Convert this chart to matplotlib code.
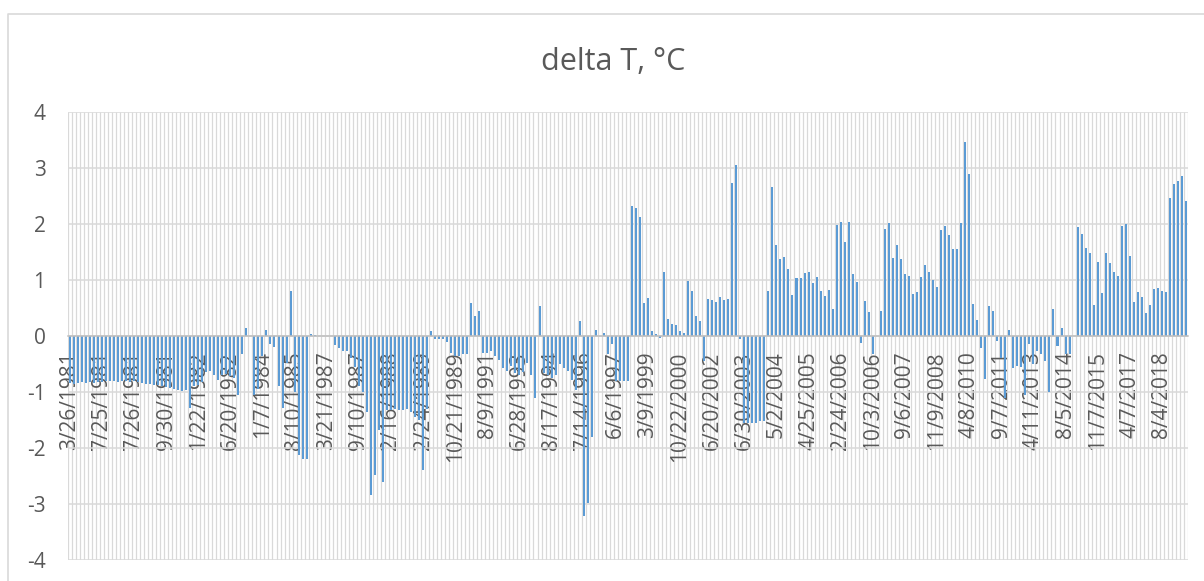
import numpy as np
import matplotlib.pyplot as plt
from matplotlib.lines import Line2D

# delta T per period
delta_t = [
    -0.84, -0.85, -0.84, -0.83, -0.84, -0.83, -0.84, -0.82, -0.82, -0.80,
    -0.81, -0.80, -0.82, -0.81, -0.80, -0.82, -0.81, -0.83, -0.84, -0.85,
    -0.86, -0.88, -0.87, -0.90, -0.91, -0.93, -0.95, -0.97, -0.99, -0.96,
    -1.28, -0.90, -0.88, -0.82, -0.65, -0.62, -0.70, -0.78, -0.70, -0.68,
    -0.72, -0.75, -1.05, -0.33, 0.15, 0.0, -1.05, -0.95, -0.35, 0.10,
    -0.15, -0.20, -0.90, -1.28, -0.48, 0.80, -1.00, -2.13, -2.19, -2.19,
    0.03, 0.02, 0.0, 0.0, 0.0, 0.0, -0.16, -0.22, -0.26, -0.27,
    -0.39, -0.55, -0.90, -1.00, -1.35, -2.84, -2.48, -1.68, -2.60, -1.32,
    -1.32, -1.30, -1.32, -1.33, -1.30, -1.35, -1.45, -1.50, -2.40, -1.30,
    0.09, -0.06, -0.06, -0.06, -0.10, -0.30, -0.35, -0.35, -0.33, -0.33,
    0.59, 0.35, 0.44, -0.30, -0.30, -0.27, -0.36, -0.42, -0.57, -0.63,
    -0.54, -0.66, -0.70, -0.65, -0.48, -0.69, -1.11, 0.54, -0.66, -0.70,
    -0.75, -0.70, -0.50, -0.57, -0.63, -0.78, -0.96, 0.26, -3.22, -2.98,
    -1.80, 0.10, 0.0, 0.06, -0.33, -0.15, -0.80, -0.81, -0.81, -0.81,
    2.32, 2.28, 2.12, 0.59, 0.68, 0.09, 0.03, -0.03, 1.14, 0.30,
    0.22, 0.20, 0.09, 0.05, 0.99, 0.80, 0.36, 0.26, -0.44, 0.66,
    0.65, 0.61, 0.69, 0.64, 0.66, 2.73, 3.06, -0.06, -1.55, -1.55,
    -1.55, -1.55, -1.52, -1.52, 0.81, 2.66, 1.62, 1.38, 1.41, 1.20,
    0.73, 1.03, 1.04, 1.13, 1.15, 0.95, 1.05, 0.81, 0.72, 0.83,
    0.48, 1.98, 2.04, 1.68, 2.03, 1.10, 0.97, -0.13, 0.63, 0.43,
    -0.33, 0.0, 0.45, 1.91, 2.01, 1.39, 1.62, 1.37, 1.10, 1.08,
    0.75, 0.78, 1.05, 1.26, 1.14, 1.00, 0.87, 1.89, 1.96, 1.81,
    1.55, 1.56, 2.01, 3.47, 2.89, 0.58, 0.28, -0.22, -0.76, 0.54,
    0.45, -0.09, -0.40, -1.10, 0.11, -0.58, -0.54, -0.56, -1.05, -0.15,
    -0.50, -0.27, -0.32, -0.45, -1.00, 0.48, -0.17, 0.15, -0.32, -0.33,
    0.0, 1.94, 1.83, 1.58, 1.49, 0.55, 1.32, 0.77, 1.49, 1.30,
    1.14, 1.07, 1.97, 2.00, 1.43, 0.61, 0.79, 0.70, 0.41, 0.56,
    0.84, 0.85, 0.81, 0.78, 2.46, 2.72, 2.76, 2.85, 2.41,
]

# every 8th category carries a date label
date_labels = [
    "3/26/1981", "7/25/1981", "7/26/1981", "9/30/1981", "1/22/1982",
    "6/20/1982", "1/7/1984", "8/10/1985", "3/21/1987", "9/10/1987",
    "2/16/1988", "2/24/1989", "10/21/1989", "8/9/1991", "6/28/1993",
    "8/17/1994", "7/14/1996", "6/6/1997", "3/9/1999", "10/22/2000",
    "6/20/2002", "6/30/2003", "5/2/2004", "4/25/2005", "2/24/2006",
    "10/3/2006", "9/6/2007", "11/9/2008", "4/8/2010", "9/7/2011",
    "4/11/2013", "8/5/2014", "11/7/2015", "4/7/2017", "8/4/2018",
]
label_step = 8
y_ticks = [-4, -3, -2, -1, 0, 1, 2, 3, 4]

TEXT = "#595959"
GRID = "#d9d9d9"
BAR = "#5b9bd5"

plt.rcParams["font.family"] = ["Open Sans", "DejaVu Sans"]
plt.rcParams["axes.unicode_minus"] = False

W, H = 1204, 581
fig = plt.figure(figsize=(W / 100, H / 100), dpi=100)

# chart-area border (only top and left are inside the picture)
fig.add_artist(Line2D([8.3 / W, 8.3 / W, 1.0], [0.0, 1 - 13.7 / H, 1 - 13.7 / H],
                      transform=fig.transFigure, color=GRID, lw=1.2))

left, right, top, bottom = 67.7, 1188.0, 112.0, 560.0
ax = fig.add_axes([left / W, 1 - bottom / H, (right - left) / W, (bottom - top) / H])

n = len(delta_t)
x = np.arange(n)

ax.vlines(np.arange(n + 1) - 0.5, -4, 4, color=GRID, lw=0.9, zorder=0)
ax.bar(x, delta_t, width=0.5, color=BAR, linewidth=0, zorder=2)

ax.set_xlim(-0.5, n - 0.5)
ax.set_ylim(-4, 4)
ax.set_yticks(y_ticks)
ax.yaxis.grid(True, color=GRID, lw=1.1, zorder=1)
ax.set_axisbelow(True)

for side in ["left", "right", "top"]:
    ax.spines[side].set_visible(False)
ax.spines["bottom"].set_position(("data", 0))
ax.spines["bottom"].set_color("#bfbfbf")
ax.spines["bottom"].set_linewidth(1.1)
ax.spines["bottom"].set_zorder(3)

ax.set_xticks(x[::label_step])
ax.set_xticklabels(date_labels[: len(x[::label_step])], rotation=90)
ax.tick_params(axis="x", length=0, pad=11, labelsize=15, labelcolor=TEXT)
ax.tick_params(axis="y", length=0, pad=16, labelsize=15, labelcolor=TEXT)

fig.text(613 / W, 1 - 70 / H, "delta T, °C", ha="center", va="baseline",
         fontsize=22, color=TEXT)

fig.savefig("out.png", dpi=100, facecolor="white")
